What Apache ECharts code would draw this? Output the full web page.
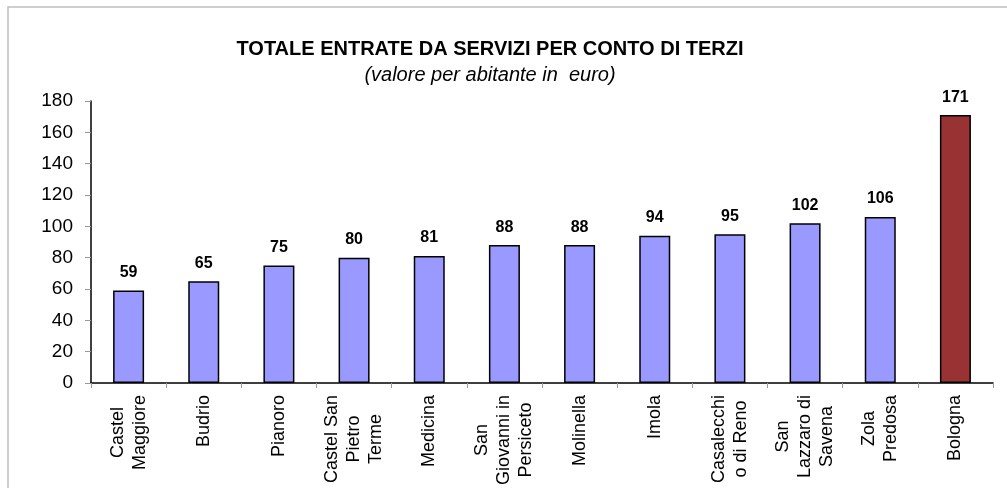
<!DOCTYPE html>
<html>
<head>
<meta charset="utf-8">
<script src="https://cdn.jsdelivr.net/npm/echarts@6/dist/echarts.min.js"></script>
<style>
  html, body { margin: 0; padding: 0; background: #fff; }
  #main { width: 1007px; height: 488px; }
</style>
</head>
<body>
<div id="main"></div>
<script>
var comuni = [
  "Castel\nMaggiore", "Budrio", "Pianoro", "Castel San\nPietro\nTerme", "Medicina",
  "San\nGiovanni in\nPersiceto", "Molinella", "Imola", "Casalecchi\no di Reno",
  "San\nLazzaro di\nSavena", "Zola\nPredosa", "Bologna"
];
var valori = [59, 65, 75, 80, 81, 88, 88, 94, 95, 102, 106, 171];
var yTicks = [0, 180, 20];

var myChart = echarts.init(document.getElementById("main"));
var option = {
  animation: false,
  title: {
    text: "TOTALE ENTRATE DA SERVIZI PER CONTO DI TERZI",
    subtext: "(valore per abitante in  euro)",
    left: 485,
    top: 34,
    textAlign: "center",
    itemGap: 6,
    textStyle: { fontFamily: "Liberation Sans", fontSize: 20, fontWeight: "bold", color: "#000" },
    subtextStyle: { fontFamily: "Liberation Sans", fontSize: 20, fontStyle: "italic", color: "#000" }
  },
  graphic: [{
    type: "rect",
    shape: { x: 8, y: 7, width: 1010, height: 500 },
    style: { fill: "none", stroke: "#bfbfbf", lineWidth: 1.5 },
    silent: true
  }],
  grid: { left: 91, right: 14, top: 101, bottom: 104 },
  xAxis: {
    type: "category",
    data: comuni,
    axisLine: { lineStyle: { color: "#000", width: 1.5 } },
    axisTick: { show: true, length: 5, lineStyle: { color: "#999" } },
    axisLabel: {
      rotate: 90,
      interval: 0,
      margin: 12,
      formatter: function (v) {
        return v.split("\n").map(function (s) { return "{c|" + s + "}"; }).join("\n");
      },
      rich: {
        c: { align: "center", fontFamily: "Liberation Sans", fontSize: 18, color: "#000", lineHeight: 22 }
      }
    }
  },
  yAxis: {
    type: "value",
    min: yTicks[0],
    max: yTicks[1],
    interval: yTicks[2],
    splitLine: { show: false },
    axisLine: { show: true, lineStyle: { color: "#000", width: 1.5 } },
    axisTick: { show: true, length: 6, lineStyle: { color: "#999" } },
    axisLabel: { fontFamily: "Liberation Sans", fontSize: 19, color: "#000", margin: 18 }
  },
  series: [{
    type: "bar",
    barWidth: 31,
    data: valori.map(function (v, i) {
      return {
        value: v,
        itemStyle: { color: i === valori.length - 1 ? "#993333" : "#9999ff" }
      };
    }),
    itemStyle: { borderColor: "#000", borderWidth: 1.5 },
    label: {
      show: true,
      position: "top",
      distance: 10,
      fontFamily: "Liberation Sans",
      fontSize: 16,
      fontWeight: "bold",
      color: "#000"
    }
  }]
};
option && myChart.setOption(option);
</script>
</body>
</html>
